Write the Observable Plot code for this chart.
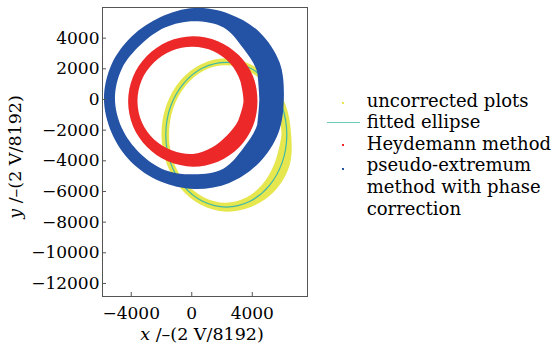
<!DOCTYPE html>
<html>
<head>
<meta charset="utf-8">
<script src="https://cdn.jsdelivr.net/npm/d3@7"></script>
<script src="https://cdn.jsdelivr.net/npm/@observablehq/plot@0.6"></script>
<style>
  html, body { margin: 0; padding: 0; background: #fff; }
  #wrap { position: relative; width: 553px; height: 348px; font-family: "DejaVu Serif", serif; color: #000; }
  #chart { position: absolute; left: 0; top: 0; }
  .axlab { position: absolute; font-size: 17.5px; line-height: 20px; white-space: nowrap; text-align: center; width: 200px; height: 20px; }
  #legend { position: absolute; left: 320px; top: 89.7px; font-size: 18px; line-height: 21.6px; }
  .row { position: relative; padding-left: 46.7px; white-space: nowrap; }
  .dot { position: absolute; left: 22.3px; width: 2px; height: 2px; }
  .ln { position: absolute; left: 7.3px; width: 33px; height: 1.6px; background: #6cccbb; }
</style>
</head>
<body>
<div id="wrap">
  <div id="chart"></div>
  <div class="axlab" id="xl" style="left:102px; top:324px;"><i>x</i> /–(2 V/8192)</div>
  <div class="axlab" id="yl" style="left:-85px; top:147px; transform: rotate(-90deg);"><i>y</i> /–(2 V/8192)</div>
  <div id="legend">
    <div class="row"><span class="dot" style="top:12.5px; background:#e6e64e;"></span>uncorrected plots</div>
    <div class="row"><span class="ln" style="top:10.6px;"></span>fitted ellipse</div>
    <div class="row"><span class="dot" style="top:11px; background:#ec2828;"></span>Heydemann method</div>
    <div class="row"><span class="dot" style="top:14px; background:#2452a4;"></span>pseudo-extremum<br>method with phase<br>correction</div>
  </div>
</div>
<script>
// Tick values
const xTicks = [-4000, 0, 4000];
const yTicks = [4000, 2000, 0, -2000, -4000, -6000, -8000, -10000, -12000];

// pseudo-extremum method with phase correction (blue ring): outer and inner edges
const blueOuterX = [6120, 5840, 4500, 2514, 200, -2025, -3920, -5264, -5771, -5264, -3986, -2069, 200, 2514, 4475, 5750];
const blueOuterY = [37, 2381, 4377, 5549, 5939, 5353, 4095, 2272, 37, -2198, -4086, -5366, -5865, -5475, -4173, -2242];
const blueInnerX = [4497, 4365, 3461, 2139, 200, -1739, -3347, -4581, -5044, -4581, -3413, -1761, 200, 2117, 3461, 4365];
const blueInnerY = [37, 1751, 3270, 4659, 5071, 4659, 3531, 1990, 37, -1916, -3522, -4629, -4911, -4542, -3175, -1656];

// Heydemann method (red ring)
const redOuterX = [4376, 4091, 3155, 1756, 101, -1545, -2922, -3849, -4173, -3849, -2922, -1545, 101, 1756, 3155, 4072];
const redOuterY = [-158, 1471, 2849, 3772, 4095, 3752, 2819, 1454, -158, -1771, -3136, -4069, -4412, -4088, -3166, -1779];
const redInnerX = [3450, 3256, 2593, 1476, 101, -1291, -2470, -3279, -3556, -3259, -2437, -1249, 101, 1368, 2360, 3115];
const redInnerY = [-158, 1131, 2296, 3110, 3400, 3151, 2374, 1222, -158, -1530, -2658, -3366, -3587, -3166, -2383, -1387];

// uncorrected plots (yellow ring)
const yellowOuterX = [6600, 6230, 5270, 3900, 2283, 660, -720, -1640, -1970, -1630, -720, 640, 2283, 3980, 5500, 6500];
const yellowOuterY = [-2296, -380, 1200, 2270, 2650, 2270, 1210, -400, -2296, -4200, -5810, -6900, -7350, -7030, -6020, -4320];
const yellowInnerX = [5960, 5745, 4950, 3725, 2283, 840, -370, -1185, -1470, -1205, -380, 850, 2283, 3700, 4850, 5600];
const yellowInnerY = [-2296, -580, 880, 1860, 2200, 1860, 865, -580, -2296, -4010, -5470, -6425, -6770, -6390, -5380, -3945];

// fitted ellipse
const ellipseX = [6282, 5978, 5110, 3814, 2283, 751, -544, -1412, -1716, -1412, -544, 751, 2283, 3814, 5110, 5978];
const ellipseY = [-2296, -488, 1042, 2066, 2424, 2066, 1042, -488, -2296, -4103, -5633, -6657, -7016, -6657, -5633, -4103];

// closed ring: wrap one point before and two after so the smooth curve has no seam
function ringRows(ox, oy, ix, iy) {
  const n = ox.length;
  const rows = [];
  for (let k = -1; k <= n + 1; k++) {
    const i = (k + n) % n;
    rows.push({xo: ox[i], yo: oy[i], xi: ix[i], yi: iy[i]});
  }
  return rows;
}
const yellowRows = ringRows(yellowOuterX, yellowOuterY, yellowInnerX, yellowInnerY);
const redRows = ringRows(redOuterX, redOuterY, redInnerX, redInnerY);
const blueRows = ringRows(blueOuterX, blueOuterY, blueInnerX, blueInnerY);
const ellipseRows = ellipseX.map((x, i) => ({x, y: ellipseY[i]}));

const ring = (rows, fill) => Plot.area(rows, {x1: "xo", y1: "yo", x2: "xi", y2: "yi", fill, curve: "catmull-rom", clip: true});
const fmt = (d) => (d < 0 ? "\u2212" : "") + Math.abs(d);

const chart = Plot.plot({
  width: 553,
  height: 348,
  marginLeft: 102,
  marginRight: 246,
  marginTop: 7,
  marginBottom: 52,
  x: {domain: [-5900, 7650], label: null},
  y: {domain: [-12850, 6000], label: null},
  style: {fontFamily: "'DejaVu Serif', serif", fontSize: "17px", color: "#000", background: "transparent"},
  marks: [
    ring(yellowRows, "#e6e64e"),
    Plot.line(ellipseRows, {x: "x", y: "y", curve: "catmull-rom-closed", stroke: "#3fb8a6", strokeWidth: 1.2}),
    ring(redRows, "#ec2828"),
    ring(blueRows, "#2452a4"),
    Plot.frame({stroke: "#555", strokeWidth: 1}),
    Plot.axisX(xTicks, {tickSize: 0, tickPadding: 10, tickFormat: fmt, label: null}),
    Plot.axisX(xTicks, {tickSize: 4, dy: -4, tickFormat: () => "", label: null, stroke: "#555"}),
    Plot.axisY(yTicks, {tickSize: 0, tickPadding: 3, tickFormat: fmt, label: null}),
    Plot.axisY(yTicks, {tickSize: 4, dx: 4, tickFormat: () => "", label: null, stroke: "#555"})
  ]
});
document.getElementById("chart").appendChild(chart);
</script>
</body>
</html>
